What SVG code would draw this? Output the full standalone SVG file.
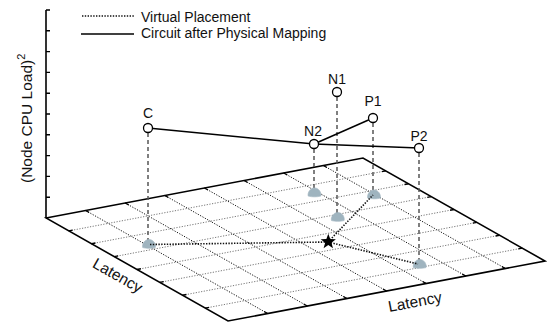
<svg xmlns="http://www.w3.org/2000/svg" width="547" height="322" viewBox="0 0 547 322">
<defs>
<style>
text{font-family:"Liberation Sans",Arial,sans-serif;fill:#111}
.lbl{font-size:14px;text-anchor:middle}
.leg{font-size:14px}
.ax{font-size:15.5px}
.gu{stroke:#111;stroke-width:1;stroke-dasharray:1.2,1.5;fill:none}
.gv{stroke:#777;stroke-width:1;stroke-dasharray:1.2,1.5;fill:none}
.edge{stroke:#000;stroke-width:1.6;fill:none;stroke-linejoin:miter}
.tick{stroke:#000;stroke-width:1.4}
.drop{stroke:#555;stroke-width:1.5;stroke-dasharray:4,3;fill:none}
.virt{stroke:#111;stroke-width:1.6;stroke-dasharray:1.4,1.4;fill:none}
.circ{stroke:#000;stroke-width:1.5;fill:none}
.node{fill:#fff;stroke:#000;stroke-width:1.3}
.blob{fill:#9fb4bf;stroke:#9fb4bf;stroke-width:0.6}
</style>
</defs>
<rect width="547" height="322" fill="#fff"/>

<g id="legend">
<line x1="82" y1="16" x2="134" y2="16" class="virt" stroke-width="1.2"/>
<text class="leg" x="141" y="22">Virtual Placement</text>
<line x1="81" y1="34" x2="134" y2="34" class="circ" stroke-width="1.3"/>
<text class="leg" x="141" y="38">Circuit after Physical Mapping</text>
</g>

<g id="grid">
<line class="gu" x1="85.625" y1="210.5" x2="267.625" y2="313.5"/>
<line class="gu" x1="125.25" y1="203" x2="307.25" y2="306"/>
<line class="gu" x1="164.875" y1="195.5" x2="346.875" y2="298.5"/>
<line class="gu" x1="204.5" y1="188" x2="386.5" y2="291"/>
<line class="gu" x1="244.125" y1="180.5" x2="426.125" y2="283.5"/>
<line class="gu" x1="283.75" y1="173" x2="465.75" y2="276"/>
<line class="gu" x1="323.375" y1="165.5" x2="505.375" y2="268.5"/>
<line class="gv" x1="68.75" y1="230.875" x2="385.75" y2="170.875"/>
<line class="gv" x1="91.5" y1="243.75" x2="408.5" y2="183.75"/>
<line class="gv" x1="114.25" y1="256.625" x2="431.25" y2="196.625"/>
<line class="gv" x1="137" y1="269.5" x2="454" y2="209.5"/>
<line class="gv" x1="159.75" y1="282.375" x2="476.75" y2="222.375"/>
<line class="gv" x1="182.5" y1="295.25" x2="499.5" y2="235.25"/>
<line class="gv" x1="205.25" y1="308.125" x2="522.25" y2="248.125"/>
</g>

<g id="axes">
<line class="edge" x1="46" y1="10" x2="46" y2="218"/>
<path class="tick" d="M46,197.2h4M46,176.4h4M46,155.6h4M46,134.8h4M46,114h4M46,93.2h4M46,72.4h4M46,51.6h4M46,30.8h4M46,10h4"/>
<path class="edge" d="M46,218 L363,158 L545,261 L228,321 Z"/>
<path class="tick" d="M68.75,230.875l3.9,-0.7M91.5,243.75l3.9,-0.7M114.25,256.625l3.9,-0.7M137,269.5l3.9,-0.7M159.75,282.375l3.9,-0.7M182.5,295.25l3.9,-0.7M205.25,308.125l3.9,-0.7"/>
<path class="tick" d="M267.625,313.5l-3.5,-2M307.25,306l-3.5,-2M346.875,298.5l-3.5,-2M386.5,291l-3.5,-2M426.125,283.5l-3.5,-2M465.75,276l-3.5,-2M505.375,268.5l-3.5,-2"/>
<path class="tick" d="M85.625,210.5l3.5,2M125.25,203l3.5,2M164.875,195.5l3.5,2M204.5,188l3.5,2M244.125,180.5l3.5,2M283.75,173l3.5,2M323.375,165.5l3.5,2"/>
<path class="tick" d="M385.75,170.875l-3.9,0.7M408.5,183.75l-3.9,0.7M431.25,196.625l-3.9,0.7M454,209.5l-3.9,0.7M476.75,222.375l-3.9,0.7M499.5,235.25l-3.9,0.7M522.25,248.125l-3.9,0.7"/>
<text class="ax" transform="translate(31.5,183) rotate(-90)">(Node CPU Load)<tspan font-size="11" dy="-7">2</tspan></text>
<text class="ax" font-size="16" text-anchor="middle" transform="translate(115,280) rotate(29.5)">Latency</text>
<text class="ax" font-size="16" text-anchor="middle" transform="translate(416,307) rotate(-10.7)">Latency</text>
</g>

<g id="drops">
<line class="drop" x1="148" y1="133" x2="148" y2="240"/>
<line class="drop" x1="337" y1="97" x2="337" y2="213"/>
<line class="drop" x1="314" y1="149" x2="314" y2="188"/>
<line class="drop" x1="373" y1="123" x2="373" y2="191"/>
<line class="drop" x1="419" y1="153" x2="419" y2="260"/>
</g>

<g id="blobs">
<path class="blob" transform="translate(149,244)" d="M-6.3,3.6 C-7.2,0 -4.2,-4.6 0,-4.6 C4.2,-4.6 7.2,0 6.3,3.6 C3,4.6 -3,4.6 -6.3,3.6 Z"/>
<path class="blob" transform="translate(314.5,192.5)" d="M-6.3,3.6 C-7.2,0 -4.2,-4.6 0,-4.6 C4.2,-4.6 7.2,0 6.3,3.6 C3,4.6 -3,4.6 -6.3,3.6 Z"/>
<path class="blob" transform="translate(337.8,217)" d="M-6.3,3.6 C-7.2,0 -4.2,-4.6 0,-4.6 C4.2,-4.6 7.2,0 6.3,3.6 C3,4.6 -3,4.6 -6.3,3.6 Z"/>
<path class="blob" transform="translate(374,194.5)" d="M-6.3,3.6 C-7.2,0 -4.2,-4.6 0,-4.6 C4.2,-4.6 7.2,0 6.3,3.6 C3,4.6 -3,4.6 -6.3,3.6 Z"/>
<path class="blob" transform="translate(419.7,264)" d="M-6.3,3.6 C-7.2,0 -4.2,-4.6 0,-4.6 C4.2,-4.6 7.2,0 6.3,3.6 C3,4.6 -3,4.6 -6.3,3.6 Z"/>
</g>

<g id="connectors">
<line class="virt" x1="150" y1="244.5" x2="328" y2="242"/>
<line class="virt" x1="328" y1="242" x2="373" y2="195"/>
<line class="virt" x1="328" y1="242" x2="418" y2="264"/>
<line class="circ" x1="148" y1="128" x2="314" y2="144"/>
<line class="circ" x1="314" y1="144" x2="373" y2="118"/>
<line class="circ" x1="314" y1="144" x2="419" y2="148"/>
</g>

<g id="node-star">
<path transform="translate(328.3,241.7)" fill="#000" d="M0,-8 L1.94,-2.67 L7.61,-2.47 L3.14,1.02 L4.7,6.47 L0,3.3 L-4.7,6.47 L-3.14,1.02 L-7.61,-2.47 L-1.94,-2.67 Z"/>
</g>
<g id="node-C">
<circle class="node" cx="148" cy="128" r="4.5"/>
<text class="lbl" x="148" y="118">C</text>
</g>
<g id="node-N1">
<circle class="node" cx="337" cy="92" r="4.5"/>
<text class="lbl" x="337" y="84">N1</text>
</g>
<g id="node-N2">
<circle class="node" cx="314" cy="144" r="4.5"/>
<text class="lbl" x="313" y="136">N2</text>
</g>
<g id="node-P1">
<circle class="node" cx="373" cy="118" r="4.5"/>
<text class="lbl" x="373" y="106">P1</text>
</g>
<g id="node-P2">
<circle class="node" cx="419" cy="148" r="4.5"/>
<text class="lbl" x="419" y="141">P2</text>
</g>
</svg>
